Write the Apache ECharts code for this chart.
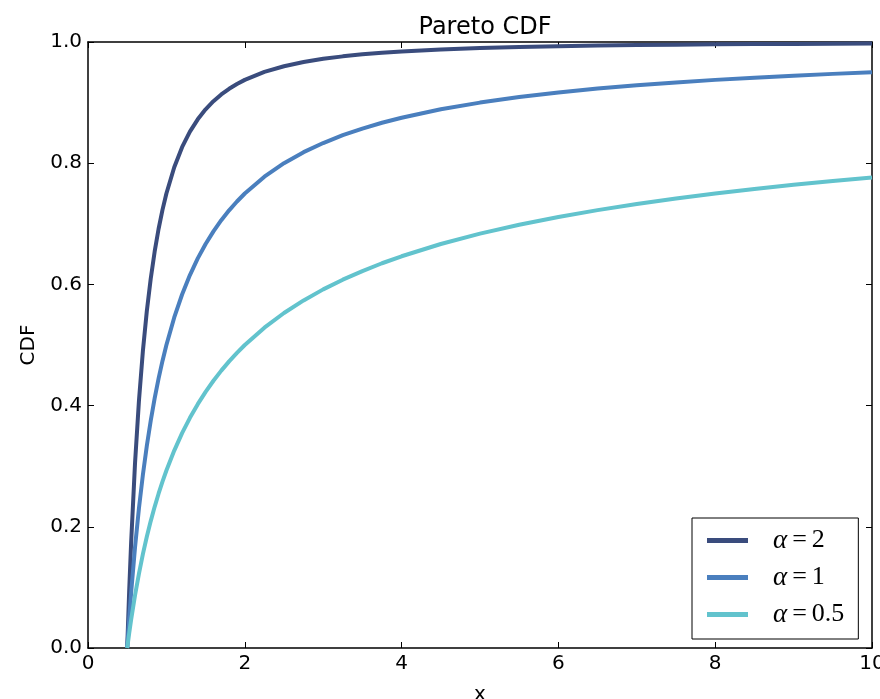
<!DOCTYPE html>
<html>
<head>
<meta charset="utf-8">
<script src="https://cdn.jsdelivr.net/npm/echarts@6/dist/echarts.min.js"></script>
<style>html,body{margin:0;padding:0;background:#fff;}#c{width:880px;height:699px;}</style>
</head>
<body>
<div id="c"></div>
<script>
var xs = [0.5,0.525,0.55,0.6,0.65,0.7,0.75,0.8,0.85,0.9,0.95,1.0,1.1,1.2,1.3,1.4,1.5,1.6,1.7,1.8,1.9,2.0,2.25,2.5,2.75,3.0,3.25,3.5,3.75,4.0,4.5,5,5.5,6,6.5,7,7.5,8,8.5,9,9.5,10];
var cdfAlpha2 = [0,0.0930,0.1736,0.3056,0.4083,0.4898,0.5556,0.6094,0.6540,0.6914,0.7230,0.75,0.7934,0.8264,0.8521,0.8724,0.8889,0.9023,0.9135,0.9228,0.9307,0.9375,0.9506,0.96,0.9669,0.9722,0.9763,0.9796,0.9822,0.9844,0.9877,0.99,0.9917,0.9931,0.9941,0.9949,0.9956,0.9961,0.9965,0.9969,0.9972,0.9975];
var cdfAlpha1 = [0,0.0476,0.0909,0.1667,0.2308,0.2857,0.3333,0.375,0.4118,0.4444,0.4737,0.5,0.5455,0.5833,0.6154,0.6429,0.6667,0.6875,0.7059,0.7222,0.7368,0.75,0.7778,0.8,0.8182,0.8333,0.8462,0.8571,0.8667,0.875,0.8889,0.9,0.9091,0.9167,0.9231,0.9286,0.9333,0.9375,0.9412,0.9444,0.9474,0.95];
var cdfAlpha05 = [0,0.0241,0.0465,0.0871,0.1229,0.1548,0.1835,0.2094,0.2330,0.2546,0.2745,0.2929,0.3258,0.3545,0.3798,0.4024,0.4226,0.4410,0.4577,0.4730,0.4870,0.5,0.5286,0.5528,0.5736,0.5918,0.6078,0.6220,0.6349,0.6464,0.6667,0.6838,0.6985,0.7113,0.7226,0.7327,0.7418,0.75,0.7575,0.7643,0.7706,0.7764];
var seriesNames = ['α=2','α=1','α=0.5'];
var seriesColors = ['#3a4c7d','#4a7fbe','#62c3cd'];
var xTicks = [0,2,4,6,8,10];
var yTicks = [0.0,0.2,0.4,0.6,0.8,1.0];

function pairs(ys){ return xs.map(function(x,i){ return [x, ys[i]]; }); }
var allY = [cdfAlpha2, cdfAlpha1, cdfAlpha05];

var chart = echarts.init(document.getElementById('c'), null, {renderer:'canvas'});
var sans = 'DejaVu Sans';
var tickStyle = {show:true, inside:true, length:6, lineStyle:{color:'#000', width:1}};
var lineStyleAxis = {show:true, onZero:false, lineStyle:{color:'#000', width:1.5}};

chart.setOption({
  animation:false,
  backgroundColor:'#fff',
  title:{text:'Pareto CDF', left:480, textAlign:'center', top:11,
    textStyle:{fontFamily:sans, fontSize:24, fontWeight:'normal', color:'#000'}},
  grid:{left:88, right:8, top:42, bottom:51, containLabel:false, outerBoundsMode:'none'},
  legend:{
    orient:'vertical', left:692, top:518,
    padding:[9,14,11,15], itemWidth:41, itemHeight:5, itemGap:10, icon:'rect',
    borderColor:'#000', borderWidth:1, borderRadius:0, backgroundColor:'#fff',
    data:seriesNames,
    formatter:function(n){ return '{i|α}{e|=}{n|' + n.slice(2) + '}'; },
    textStyle:{padding:[0,0,0,20], lineHeight:24,
      rich:{
        i:{fontFamily:'Liberation Serif', fontStyle:'italic', fontSize:27, color:'#000', lineHeight:24},
        e:{fontFamily:'Liberation Serif', fontSize:26, color:'#000', padding:[0,5,0,5], lineHeight:24},
        n:{fontFamily:'Liberation Serif', fontSize:26, color:'#000', lineHeight:24}
      }}
  },
  xAxis:[
    {type:'value', min:0, max:10, interval:2, position:'bottom',
     name:'x', nameLocation:'middle', nameGap:37,
     nameTextStyle:{fontFamily:sans, fontSize:20, color:'#000'},
     axisLine:lineStyleAxis, axisTick:tickStyle, splitLine:{show:false},
     axisLabel:{fontFamily:sans, fontSize:20, color:'#000', margin:6,
       formatter:function(v){ return xTicks.indexOf(v) >= 0 ? String(v) : ''; }}},
    {type:'value', min:0, max:10, interval:2, position:'top',
     axisLine:lineStyleAxis, axisTick:tickStyle, splitLine:{show:false}, axisLabel:{show:false}}
  ],
  yAxis:[
    {type:'value', min:0, max:1, interval:0.2, position:'left',
     name:'CDF', nameLocation:'middle', nameGap:48,
     nameTextStyle:{fontFamily:sans, fontSize:20, color:'#000'},
     axisLine:lineStyleAxis, axisTick:tickStyle, splitLine:{show:false},
     axisLabel:{fontFamily:sans, fontSize:20, color:'#000', margin:6,
       formatter:function(v){ return v.toFixed(1); }}},
    {type:'value', min:0, max:1, interval:0.2, position:'right',
     axisLine:lineStyleAxis, axisTick:tickStyle, splitLine:{show:false}, axisLabel:{show:false}}
  ],
  series: seriesNames.map(function(n,i){
    return {name:n, type:'line', xAxisIndex:0, yAxisIndex:0, data:pairs(allY[i]),
      showSymbol:false, symbol:'none', smooth:false,
      lineStyle:{color:seriesColors[i], width:4, join:'round'}, itemStyle:{color:seriesColors[i]}};
  })
});
</script>
</body>
</html>
